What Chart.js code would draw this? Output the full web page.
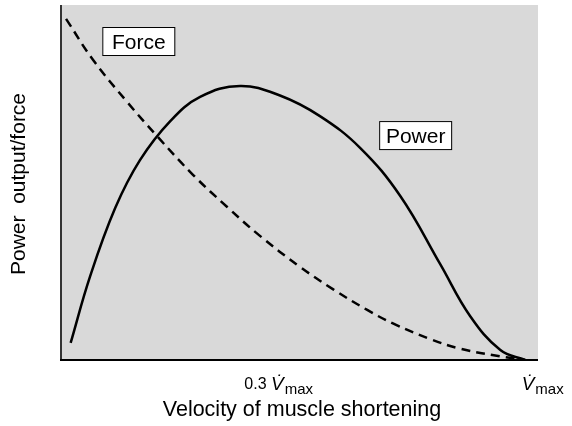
<!DOCTYPE html>
<html>
<head>
<meta charset="utf-8">
<script src="https://cdn.jsdelivr.net/npm/chart.js@4/dist/chart.umd.min.js"></script>
<style>
  body { margin: 0; background: #fff; }
  canvas { display: block; }
</style>
</head>
<body>
<canvas id="muscleChart" width="572" height="426"></canvas>
<script>
// velocity as a fraction of Vmax, relative power/force (0-100)
const forceVelocity = [0, 0.059, 0.133, 0.198, 0.277, 0.351, 0.423, 0.510, 0.582, 0.656, 0.712, 0.793, 0.858, 0.946, 1.0];
const forceValues   = [96.1, 84.5, 72.7, 63.1, 52.1, 43.1, 34.9, 26.2, 19.9, 14.1, 10.3, 5.9, 3.2, 1.0, 0];

const powerVelocity = [0.010, 0.052, 0.107, 0.161, 0.227, 0.292, 0.379, 0.466, 0.553, 0.641, 0.728, 0.815, 0.880, 0.946, 1.0];
const powerValues   = [4.8, 23.4, 42.8, 56.3, 67.3, 74.1, 77.2, 74.5, 68.7, 59.7, 46.2, 27.0, 12.4, 2.8, 0];

// x tick labels: position, number prefix
const tickPositions = [0.462, 1.037];
const tickPrefixes  = ["0.3 ", ""];

const xTitle = "Velocity of muscle shortening";
const yTitle = "Power  output/force";

function toPoints(xs, ys) {
    return xs.map((x, i) => ({ x: x, y: ys[i] }));
}

const FONT = "'Liberation Sans', Arial, sans-serif";

// Draws the grey panel, axes, labels and the two boxed captions
const decorPlugin = {
    id: 'decor',
    beforeDatasetsDraw(chart) {
        const { ctx, chartArea: a } = chart;
        ctx.save();
        ctx.fillStyle = '#d9d9d9';
        ctx.fillRect(a.left, a.top, a.right - a.left, a.bottom - a.top);
        ctx.restore();
    },
    afterDatasetsDraw(chart) {
        const { ctx, chartArea: a, scales } = chart;
        ctx.save();

        // axis lines
        ctx.strokeStyle = '#333';
        ctx.lineWidth = 2;
        ctx.beginPath();
        ctx.moveTo(a.left, a.top);
        ctx.lineTo(a.left, a.bottom);
        ctx.stroke();
        ctx.strokeStyle = '#000';
        ctx.beginPath();
        ctx.moveTo(a.left - 1, a.bottom);
        ctx.lineTo(a.right, a.bottom);
        ctx.stroke();

        // tick labels like "0.3 V̇max"
        ctx.fillStyle = '#000';
        ctx.textBaseline = 'alphabetic';
        tickPositions.forEach((v, i) => {
            const cx = scales.x.getPixelForValue(v);
            ctx.font = '16px ' + FONT;
            const w1 = ctx.measureText(tickPrefixes[i]).width;
            ctx.font = 'italic 19px ' + FONT;
            const w2 = ctx.measureText('V').width;
            ctx.font = '15px ' + FONT;
            const w3 = ctx.measureText('max').width;
            let x = cx - (w1 + w2 + w3) / 2;
            ctx.textAlign = 'left';
            ctx.font = '16px ' + FONT;
            ctx.fillText(tickPrefixes[i], x, 389);
            x += w1;
            ctx.font = 'italic 19px ' + FONT;
            ctx.fillText('V\u0307', x, 390);
            x += w2 + 1;
            ctx.font = '15px ' + FONT;
            ctx.fillText('max', x, 394);
        });

        // axis titles
        ctx.font = '21.5px ' + FONT;
        ctx.textAlign = 'center';
        ctx.fillText(xTitle, 302, 416);
        ctx.save();
        ctx.font = '21px ' + FONT;
        ctx.translate(25, 184);
        ctx.rotate(-Math.PI / 2);
        ctx.fillText(yTitle, 0, 0);
        ctx.restore();

        // boxed captions
        const boxes = [
            { text: 'Force', x: scales.x.getPixelForValue(0.079), y: scales.y.getPixelForValue(93.8) },
            { text: 'Power', x: scales.x.getPixelForValue(0.682), y: scales.y.getPixelForValue(67.3) }
        ];
        boxes.forEach(b => {
            ctx.fillStyle = '#fff';
            ctx.fillRect(b.x, b.y, 72, 28);
            ctx.strokeStyle = '#000';
            ctx.lineWidth = 1;
            ctx.strokeRect(b.x + 0.5, b.y + 0.5, 72, 28);
            ctx.fillStyle = '#000';
            ctx.font = '21px ' + FONT;
            ctx.textAlign = 'center';
            ctx.fillText(b.text, b.x + 36.5, b.y + 22);
        });

        ctx.restore();
    }
};

const chart = new Chart(document.getElementById('muscleChart'), {
    type: 'line',
    data: {
        datasets: [
            {
                label: 'Force',
                data: toPoints(forceVelocity, forceValues),
                borderColor: '#000',
                borderWidth: 2.5,
                borderDash: [9, 6],
                pointRadius: 0,
                tension: 0.4,
                fill: false
            },
            {
                label: 'Power',
                data: toPoints(powerVelocity, powerValues),
                borderColor: '#000',
                borderWidth: 2.5,
                pointRadius: 0,
                tension: 0.4,
                fill: false
            }
        ]
    },
    options: {
        responsive: false,
        animation: false,
        layout: { padding: { left: 61, top: 5, right: 34, bottom: 66 } },
        plugins: { legend: { display: false }, tooltip: { enabled: false } },
        scales: {
            x: { type: 'linear', min: -0.011, max: 1.028, display: false },
            y: { type: 'linear', min: 0, max: 100, display: false }
        }
    },
    plugins: [decorPlugin]
});
</script>
</body>
</html>
